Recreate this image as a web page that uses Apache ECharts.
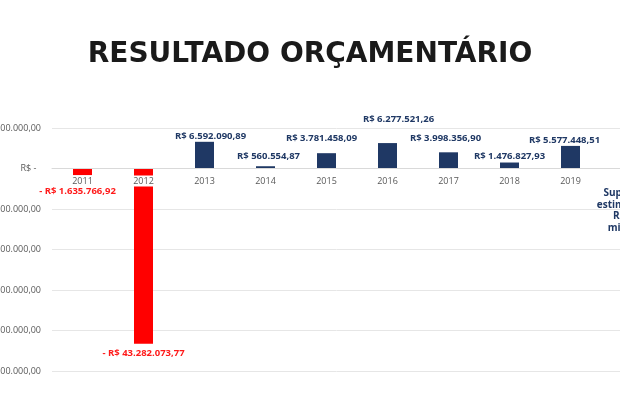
<!DOCTYPE html>
<html>
<head>
<meta charset="utf-8">
<script src="https://cdn.jsdelivr.net/npm/echarts@6/dist/echarts.min.js"></script>
<style>
html,body{margin:0;padding:0;background:#fff;}
#chart{width:620px;height:420px;}
</style>
</head>
<body>
<div id="chart"></div>
<script>
const titleText = 'RESULTADO ORÇAMENTÁRIO';
const categories = ['2011','2012','2013','2014','2015','2016','2017','2018','2019','2020'];
const values = [-1635766.92, -43282073.77, 6592090.89, 560554.87, 3781458.09, 6277521.26, 3998356.90, 1476827.93, 5577448.51, null];
const yTicks = { min: -50000000, max: 10000000, interval: 10000000 };
const annotationCategory = '2020';
const annotationText = 'Superávit\nestimado de\nR$ 5,5\nmilhões';

// label nudges (style only)
const labelNudge = [[-5,9],[0,3],[6,1],[3,-3],[-5,-8],[11,-17],[-3,-7],[0,1],[-6,1],[0,0]];

const NAVY = '#1f3864';
const RED = '#ff0000';
const GRID = { left: 52, top: 128, width: 610, height: 243 };

function brl(v){
  const abs = Math.abs(v);
  const s = abs.toFixed(2).split('.');
  const intPart = s[0].replace(/\B(?=(\d{3})+(?!\d))/g, '.');
  return 'R$ ' + intPart + ',' + s[1];
}

const barData = values.map((v, i) => {
  if (v === null) return { value: null };
  const neg = v < 0;
  return {
    value: v,
    itemStyle: { color: neg ? RED : NAVY },
    label: {
      show: true,
      position: neg ? 'bottom' : 'top',
      distance: 2,
      offset: labelNudge[i],
      color: neg ? '#ff1a1a' : NAVY,
      formatter: () => (neg ? '- ' : '') + brl(v)
    }
  };
});

// pixel offset of the zero line from the grid bottom (computed from the axis range)
const zeroOffset = -GRID.height * (0 - yTicks.min) / (yTicks.max - yTicks.min);

const chart = echarts.init(document.getElementById('chart'));
chart.setOption({
  animation: false,
  backgroundColor: '#fff',
  title: {
    text: titleText,
    left: 'center',
    top: 36,
    textStyle: { fontFamily: 'DejaVu Sans', fontWeight: 'bold', fontSize: 28, color: '#1a1a1a' }
  },
  grid: Object.assign({ containLabel: false, outerBoundsMode: 'none' }, GRID),
  xAxis: {
    type: 'category',
    data: categories,
    position: 'bottom',
    offset: zeroOffset,
    axisLine: { onZero: false, lineStyle: { color: '#d9d9d9', width: 1 } },
    axisTick: { show: false },
    axisLabel: {
      margin: 7,
      fontSize: 9,
      fontFamily: 'Open Sans',
      color: '#595959',
      backgroundColor: '#fff',
      padding: [1, 1]
    },
    z: 5
  },
  yAxis: {
    type: 'value',
    min: yTicks.min,
    max: yTicks.max,
    interval: yTicks.interval,
    axisLine: { show: false },
    axisTick: { show: false },
    splitLine: { lineStyle: { color: '#e6e6e6', width: 1 } },
    axisLabel: {
      margin: 11,
      fontSize: 9,
      fontFamily: 'Open Sans',
      color: '#595959',
      formatter: v => v === 0 ? 'R$ -  ' : (v < 0 ? '-' : '') + brl(v)
    }
  },
  series: [{
    type: 'bar',
    data: barData,
    barWidth: 19,
    z: 3,
    label: {
      fontFamily: 'Open Sans',
      fontWeight: 'bold',
      fontSize: 9.5
    }
  }]
});

const pt = chart.convertToPixel({ xAxisIndex: 0, yAxisIndex: 0 }, [annotationCategory, 0]);
chart.setOption({
  graphic: [{
    type: 'text',
    x: pt[0] - 4,
    y: pt[1] + 19,
    z: 10,
    style: {
      text: annotationText,
      align: 'center',
      verticalAlign: 'top',
      fill: NAVY,
      font: 'bold 10px "Open Sans"',
      lineHeight: 11.5
    }
  }]
});
</script>
</body>
</html>
